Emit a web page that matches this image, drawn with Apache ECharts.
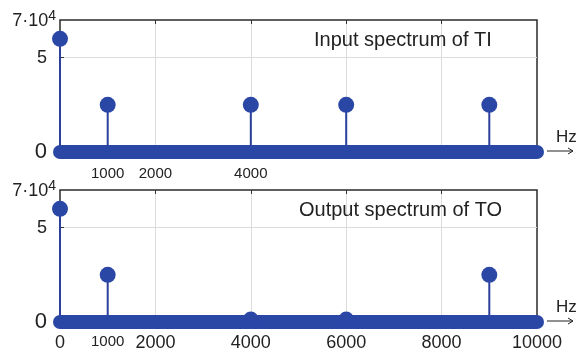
<!DOCTYPE html>
<html>
<head>
<meta charset="utf-8">
<script src="https://cdn.jsdelivr.net/npm/echarts@6/dist/echarts.min.js"></script>
<style>html,body{margin:0;padding:0;background:#fff;}#c{width:577px;height:356px;}</style>
</head>
<body>
<div id="c"></div>
<script>
// ---- data ----
const freqIn = [0, 1000, 4000, 6000, 9000];
const ampIn = [60000, 25000, 25000, 25000, 25000];
const freqOut = [0, 1000, 4000, 6000, 9000];
const ampOut = [60000, 25000, 1300, 1300, 25000];
const baseRange = [0, 10000];
const yTickValues = [0, 50000, 70000];
const yTickLabels = ['0', '5', '7·10^4'];
const xTicksTop = [1000, 2000, 4000];
const xTicksBottom = [0, 1000, 2000, 4000, 6000, 8000, 10000];
const xGridValues = [2000, 4000, 6000, 8000];
const titles = ['Input spectrum of TI', 'Output spectrum of TO'];
const unitLabel = 'Hz';

const FONT = 'Liberation Sans';
const BLUE = '#2a47a6';
const STEM = '#2c3f9c';

const chart = echarts.init(document.getElementById('c'), null, {renderer: 'canvas'});

function yFmt(v) {
  const i = yTickValues.indexOf(v);
  if (i < 0) return '';
  const t = yTickLabels[i];
  if (t.indexOf('^') >= 0) {
    const [b, e] = t.split('^');
    return '{a|' + b + '}{s|' + e + '}';
  }
  return (v === 0 ? '{z|' : '{n|') + t + '}';
}
const yRich = {
  a: {fontSize: 18, fontFamily: FONT, color: '#222', padding: [3, 0, 0, 0]},
  s: {fontSize: 14, fontFamily: FONT, color: '#222', padding: [0, 0, 7, 0]},
  n: {fontSize: 18, fontFamily: FONT, color: '#222', padding: [0, 9, 0, 0]},
  z: {fontSize: 22, fontFamily: FONT, color: '#222', padding: [0, 9, 0, 0]}
};

function xFmtTop(v) { return String(v); }
function xFmtBottom(v) {
  return v === 1000 ? '{m|' + v + '}' : '{b|' + v + '}';
}

const grids = [
  {left: 60, top: 20, width: 477, height: 132},
  {left: 60, top: 190, width: 477, height: 132}
];

function makeXAxis(gi, labelVals, fmt, fontSize, margin, rich) {
  return {
    type: 'value', gridIndex: gi, min: 0, max: 10000, interval: 2000,
    axisLine: {show: false},
    axisTick: {show: false, customValues: xGridValues},
    splitLine: {show: true, lineStyle: {color: '#dcdcdc', width: 1}},
    axisLabel: {
      customValues: labelVals, formatter: fmt, margin: margin,
      fontSize: fontSize, fontFamily: FONT, color: '#222', rich: rich
    }
  };
}
function makeTopXAxis(gi) {
  return {
    type: 'value', gridIndex: gi, position: 'top', min: 0, max: 10000, interval: 2000,
    axisLine: {show: false},
    axisTick: {show: true, inside: true, length: 4, customValues: xGridValues, lineStyle: {color: '#333'}},
    splitLine: {show: false},
    axisLabel: {show: false}
  };
}
function makeYAxis(gi) {
  return {
    type: 'value', gridIndex: gi, min: 0, max: 70000, interval: 10000,
    axisLine: {show: false},
    axisTick: {show: true, inside: true, length: 4, customValues: [50000], lineStyle: {color: '#333'}},
    splitLine: {show: true, lineStyle: {color: '#dcdcdc', width: 1}},
    axisLabel: {customValues: yTickValues, formatter: yFmt, margin: 4, rich: yRich}
  };
}

function pairs(xs, ys) { return xs.map((x, i) => [x, ys[i]]); }

function panelSeries(gi, xs, ys) {
  const xi = gi * 2, yi = gi;
  return [
    {
      type: 'bar', xAxisIndex: xi, yAxisIndex: yi, barWidth: 2,
      data: pairs(xs, ys), itemStyle: {color: STEM}, z: 2, silent: true
    },
    {
      type: 'line', xAxisIndex: xi, yAxisIndex: yi, clip: false,
      data: baseRange.map(x => [x, 0]), symbol: 'none',
      lineStyle: {color: BLUE, width: 14, cap: 'round'}, z: 3, silent: true
    },
    {
      type: 'scatter', xAxisIndex: xi, yAxisIndex: yi, clip: false,
      data: pairs(xs, ys), symbol: 'circle', symbolSize: 16,
      itemStyle: {color: BLUE, opacity: 1}, z: 4, silent: true
    }
  ];
}

const option = {
  animation: false,
  backgroundColor: '#fff',
  title: [
    {text: titles[0], left: 314, top: 30, padding: 0,
     textStyle: {fontSize: 20, fontWeight: 'normal', fontFamily: FONT, color: '#222'}},
    {text: titles[1], left: 299, top: 200, padding: 0,
     textStyle: {fontSize: 20, fontWeight: 'normal', fontFamily: FONT, color: '#222'}}
  ],
  grid: grids.map(g => Object.assign({show: true, borderColor: '#2a2a2a', borderWidth: 1.5, containLabel: false}, g)),
  xAxis: [
    makeXAxis(0, xTicksTop, xFmtTop, 15, 14, {}),
    makeTopXAxis(0),
    makeXAxis(1, xTicksBottom, xFmtBottom, 18, 12, {
      b: {fontSize: 18, fontFamily: FONT, color: '#222'},
      m: {fontSize: 15, fontFamily: FONT, color: '#222'}
    }),
    makeTopXAxis(1)
  ],
  yAxis: [makeYAxis(0), makeYAxis(1)],
  series: [].concat(panelSeries(0, freqIn, ampIn), panelSeries(1, freqOut, ampOut))
};
chart.setOption(option);

// axis arrows with unit label, anchored to the x-axis end
const gfx = [];
[0, 1].forEach(gi => {
  const p = chart.convertToPixel({xAxisIndex: gi * 2, yAxisIndex: gi}, [baseRange[1], 0]);
  const x0 = p[0] + 10, x1 = p[0] + 36, y = p[1] - 1;
  gfx.push({type: 'line', shape: {x1: x0, y1: y, x2: x1, y2: y}, style: {stroke: '#222', lineWidth: 1}, z: 10});
  gfx.push({type: 'polyline', shape: {points: [[x1 - 5, y - 3], [x1, y], [x1 - 5, y + 3]]}, style: {stroke: '#222', lineWidth: 1, fill: null}, z: 10});
  gfx.push({type: 'text', x: p[0] + 19, y: p[1] - 15, style: {text: unitLabel, fontSize: 17, fontFamily: FONT, fill: '#222', verticalAlign: 'middle', align: 'left'}, z: 10});
});
chart.setOption({graphic: gfx});
</script>
</body>
</html>
